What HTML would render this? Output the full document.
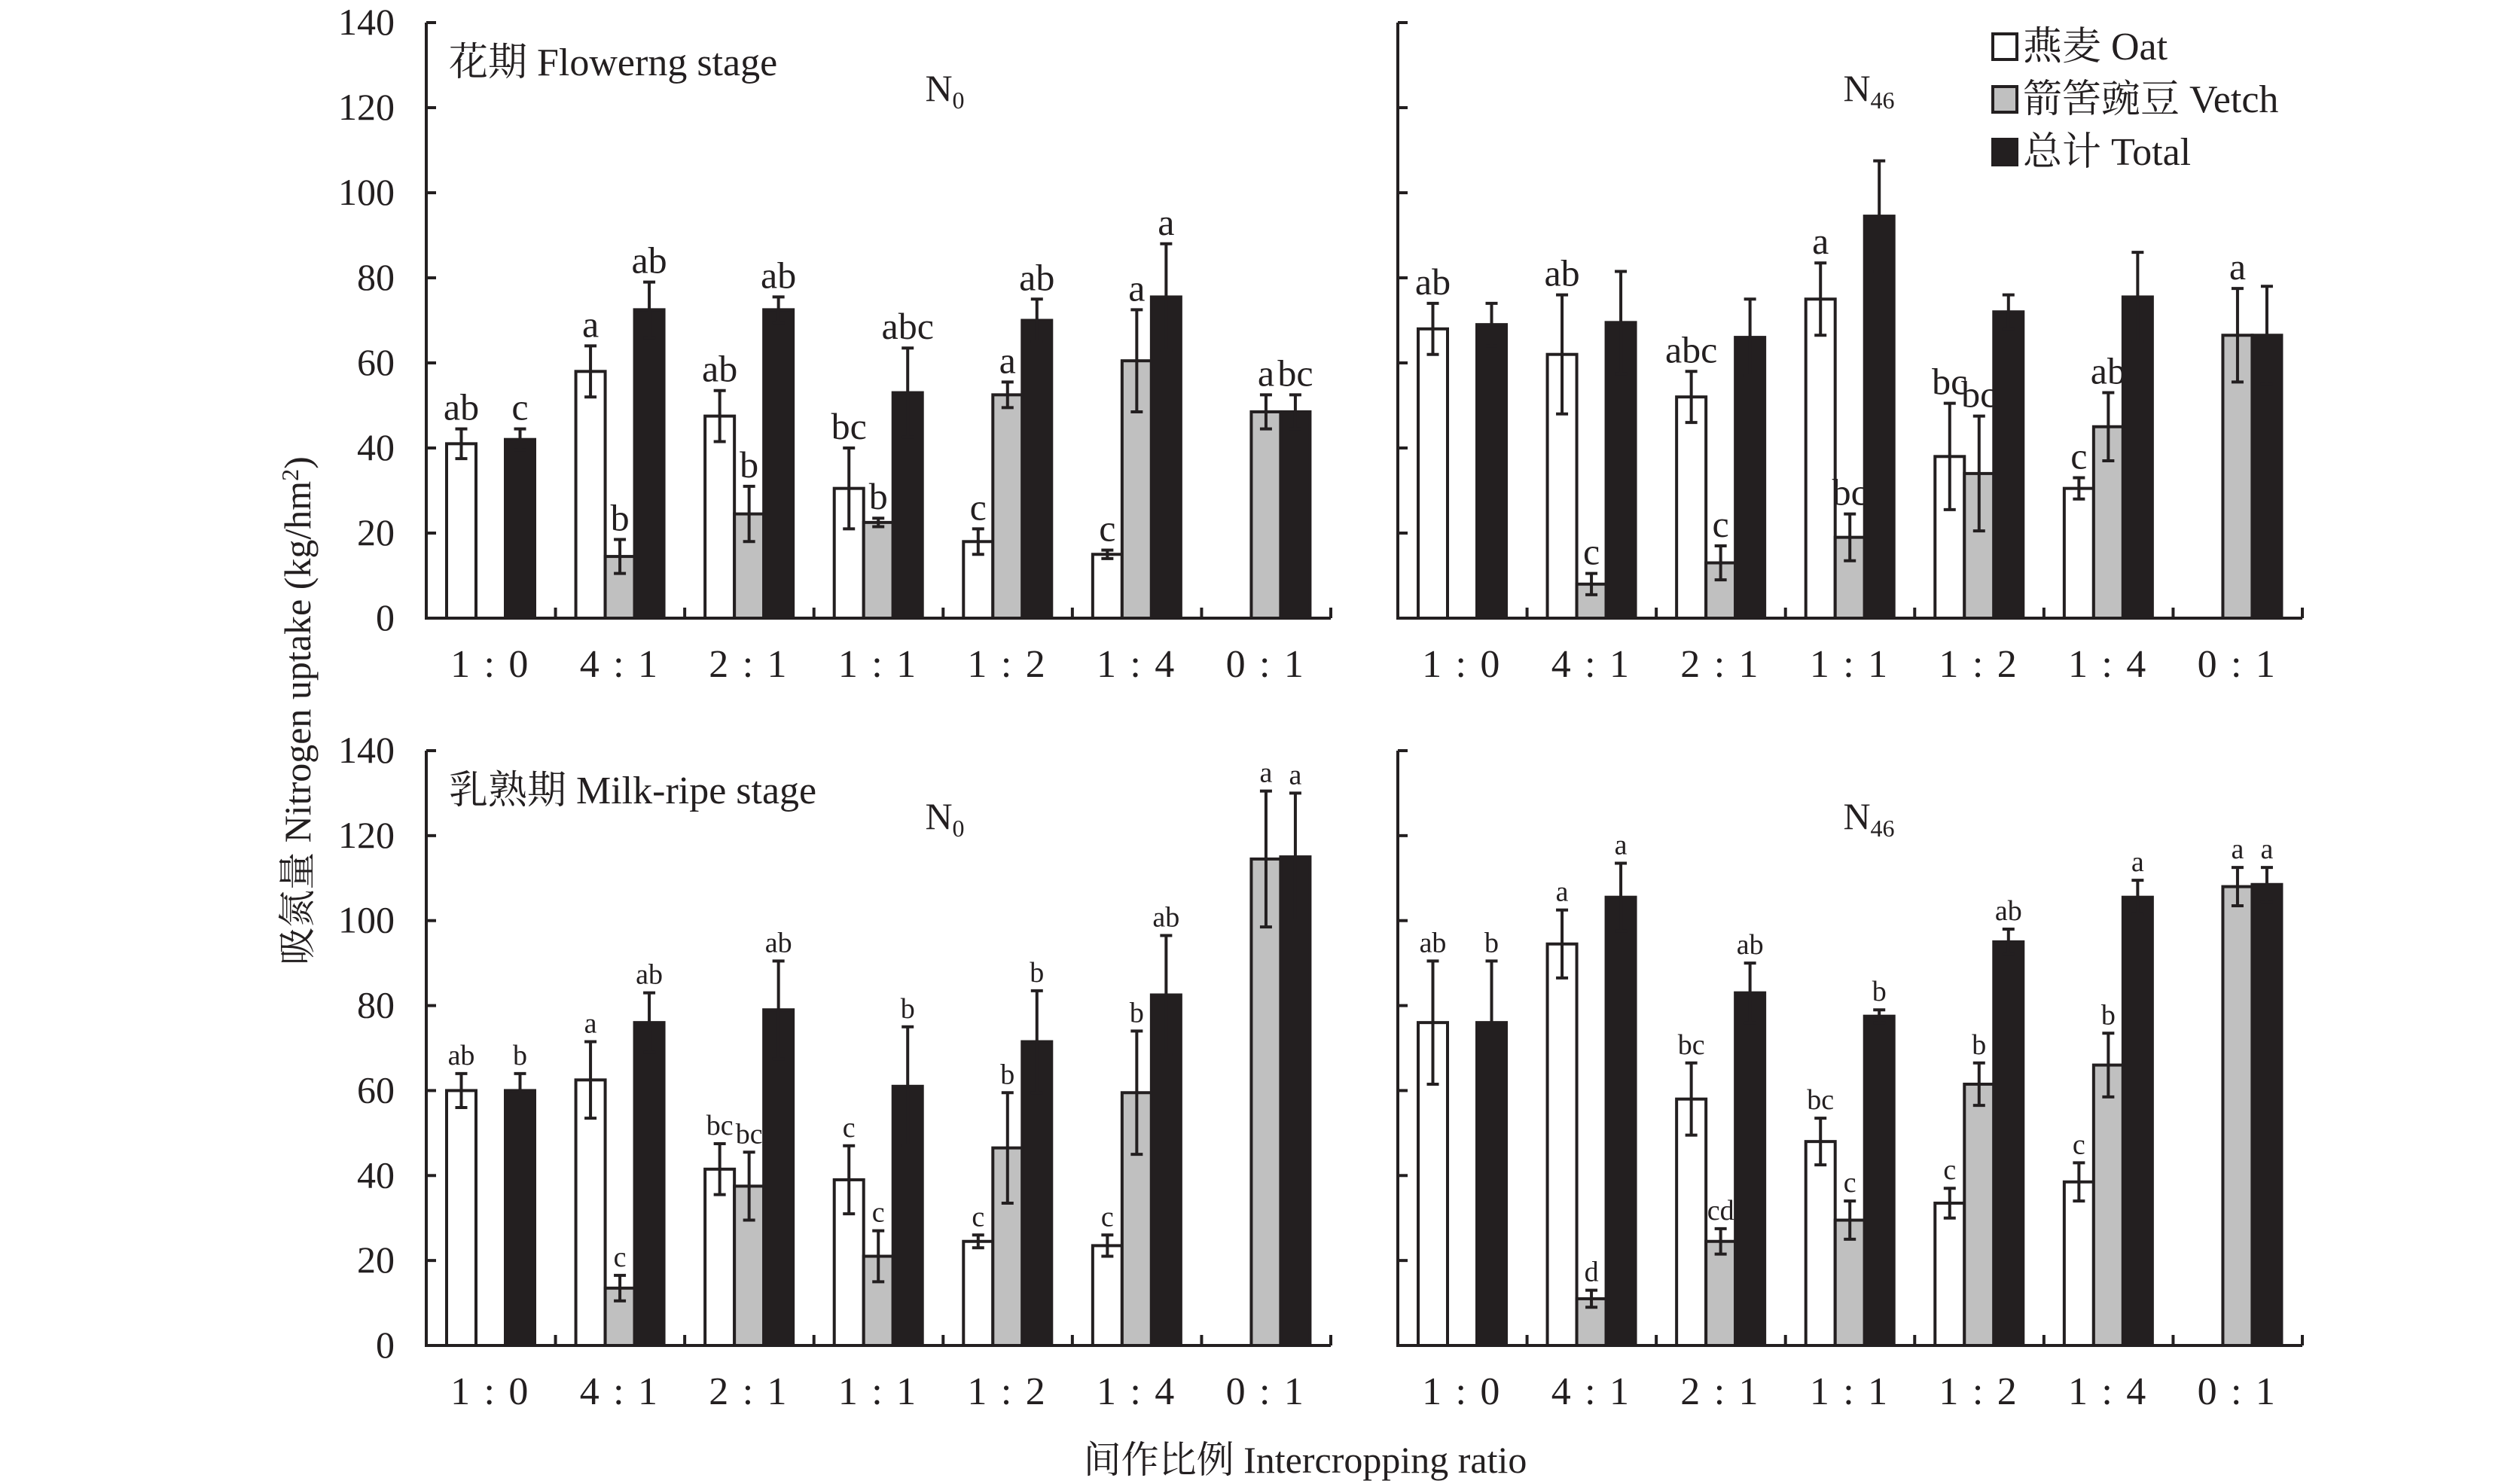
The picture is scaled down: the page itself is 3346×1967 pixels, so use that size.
<!DOCTYPE html>
<html><head><meta charset="utf-8"><style>
html,body{margin:0;padding:0;background:#fff}
svg{display:block}
svg text{font-family:"Liberation Serif","Noto Serif CJK SC","Noto Sans CJK SC",serif;fill:#231f20}
</style></head><body>
<svg id="c" width="3346" height="1967" viewBox="0 0 3346 1967" xmlns="http://www.w3.org/2000/svg" font-family="Liberation Serif, Noto Serif CJK SC, serif"></svg>
<script>
const categories=["1\u2009:\u20090","4\u2009:\u20091","2\u2009:\u20091","1\u2009:\u20091","1\u2009:\u20092","1\u2009:\u20094","0\u2009:\u20091"];
const yTicks=[0,20,40,60,80,100,120,140];
// Flowering N0
const fN0Oat=[41,58,47.5,30.5,18,15,0], fN0OatErr=[3.5,6,6,9.5,3,1,0];
const fN0Vet=[0,14.5,24.5,22.5,52.5,60.5,48.5], fN0VetErr=[0,4,6.5,1,3,12,4];
const fN0Tot=[42,72.5,72.5,53,70,75.5,48.5], fN0TotErr=[2.5,6.5,3,10.5,5,12.5,4];
const fN0OatL=["ab","a","ab","bc","c","c",""], fN0VetL=["","b","b","b","a","a","a"], fN0TotL=["c","ab","ab","abc","ab","a","bc"];
// Flowering N46
const fN46Oat=[68,62,52,75,38,30.5,0], fN46OatErr=[6,14,6,8.5,12.5,2.5,0];
const fN46Vet=[0,8,13,19,34,45,66.5], fN46VetErr=[0,2.5,4,5.5,13.5,8,11];
const fN46Tot=[69,69.5,66,94.5,72,75.5,66.5], fN46TotErr=[5,12,9,13,4,10.5,11.5];
const fN46OatL=["ab","ab","abc","a","bc","c",""], fN46VetL=["","c","c","bc","bc","ab","a"], fN46TotL=["","","","","","",""];
// Milk-ripe N0
const mN0Oat=[60,62.5,41.5,39,24.5,23.5,0], mN0OatErr=[4,9,6,8,1.5,2.5,0];
const mN0Vet=[0,13.5,37.5,21,46.5,59.5,114.5], mN0VetErr=[0,3,8,6,13,14.5,16];
const mN0Tot=[60,76,79,61,71.5,82.5,115], mN0TotErr=[4,7,11.5,14,12,14,15];
const mN0OatL=["ab","a","bc","c","c","c",""], mN0VetL=["","c","bc","c","b","b","a"], mN0TotL=["b","ab","ab","b","b","ab","a"];
// Milk-ripe N46
const mN46Oat=[76,94.5,58,48,33.5,38.5,0], mN46OatErr=[14.5,8,8.5,5.5,3.5,4.5,0];
const mN46Vet=[0,11,24.5,29.5,61.5,66,108], mN46VetErr=[0,2,3,4.5,5,7.5,4.5];
const mN46Tot=[76,105.5,83,77.5,95,105.5,108.5], mN46TotErr=[14.5,8,7,1.5,3,4,4];
const mN46OatL=["ab","a","bc","bc","c","c",""], mN46VetL=["","d","cd","c","b","b","a"], mN46TotL=["b","a","ab","b","ab","a","a"];

const NS="http://www.w3.org/2000/svg", svg=document.getElementById('c');
function mk(tag,attrs,parent,txt){const e=document.createElementNS(NS,tag);for(const k in attrs)e.setAttribute(k,attrs[k]);if(txt!==undefined)e.textContent=txt;(parent||svg).appendChild(e);return e;}

const fills=["#ffffff","#c0c0c0","#231f20"];
function panel(id,x0,yTop,yBot,series,errs,labels,showY,title,nlab,lfs,noff){
  const g=mk('g',{});
  
  
  const W=1201, gw=W/7;
  const sy=v=>yBot-(v/140)*(yBot-yTop);
  const sx=(i,k)=>x0+i*gw+27+k*39;
  const ax=mk('path',{d:`M${x0} ${yTop} V${yBot} H${x0+W}`,stroke:'#231f20','stroke-width':4,fill:'none'},g);
  
  yTicks.forEach(t=>{
    mk('line',{x1:x0,x2:x0+13,y1:sy(t),y2:sy(t),stroke:'#231f20','stroke-width':4},g);
    if(showY){const tl=mk('text',{x:x0-42,y:sy(t)+16,'text-anchor':'end','font-size':50},g,t);
      }
  });
  for(let i=1;i<=7;i++) mk('line',{x1:x0+i*gw,x2:x0+i*gw,y1:yBot,y2:yBot-14,stroke:'#231f20','stroke-width':4},g);
  categories.forEach((c,i)=>{const t=mk('text',{x:x0+i*gw+gw/2,y:yBot+78,'text-anchor':'middle','font-size':52,'letter-spacing':'4'},g,c);
    });
  series.forEach((vals,k)=>{
    vals.forEach((v,i)=>{
      const x=sx(i,k);
      if(v>0){
        const r=mk('rect',{x:x,y:sy(v),width:39,height:yBot-sy(v),fill:fills[k],stroke:'#231f20','stroke-width':4},g);
        
        
      }
      const e=errs[k][i], cx=x+19.5;
      if(e>0){
        mk('path',{d:`M${cx} ${sy(v+e)} V${sy(v-e)} M${cx-8} ${sy(v+e)} H${cx+8} M${cx-8} ${sy(v-e)} H${cx+8}`,stroke:'#231f20','stroke-width':4,fill:'none'},g);
      }
      const L=labels[k][i];
      if(L){const t=mk('text',{x:cx,y:sy(v+e)-12,'text-anchor':'middle','font-size':lfs},g,L);
        }
    });
  });
  if(title){const t=mk('text',{x:x0+30,y:yTop+70,'font-size':52},g,title);
    }
  const n=mk('text',{x:x0+W/2+noff,y:yTop+104,'text-anchor':'middle','font-size':50},g);
  
  n.innerHTML='N<tspan font-size="32" dy="10">'+nlab+'</tspan>';
}
panel('flowering-n0',566,30,821,[fN0Oat,fN0Vet,fN0Tot],[fN0OatErr,fN0VetErr,fN0TotErr],[fN0OatL,fN0VetL,fN0TotL],true,'花期 Flowerng stage','0',50,88);
panel('flowering-n46',1856,30,821,[fN46Oat,fN46Vet,fN46Tot],[fN46OatErr,fN46VetErr,fN46TotErr],[fN46OatL,fN46VetL,fN46TotL],false,'','46',50,25);
panel('milk-n0',566,997,1787,[mN0Oat,mN0Vet,mN0Tot],[mN0OatErr,mN0VetErr,mN0TotErr],[mN0OatL,mN0VetL,mN0TotL],true,'乳熟期 Milk-ripe stage','0',38,88);
panel('milk-n46',1856,997,1787,[mN46Oat,mN46Vet,mN46Tot],[mN46OatErr,mN46VetErr,mN46TotErr],[mN46OatL,mN46VetL,mN46TotL],false,'','46',38,25);

const leg=mk('g',{});

const legT=["燕麦 Oat","箭筈豌豆 Vetch","总计 Total"];
legT.forEach((t,i)=>{
  const y=62+i*70;
  mk('rect',{x:2660-14,y:y-17,width:32,height:34,fill:fills[i],stroke:'#231f20','stroke-width':4},leg);
  const tx=mk('text',{x:2686,y:y+17,'font-size':52},leg,t);
  
});
const yt=mk('text',{x:0,y:0,'text-anchor':'middle','font-size':50,transform:'translate(412,944) rotate(-90)'});

yt.innerHTML='吸氮量 Nitrogen uptake (kg/hm<tspan font-size="32" dy="-16">2</tspan><tspan dy="16">)</tspan>';
const xt=mk('text',{x:1733,y:1956,'text-anchor':'middle','font-size':50},svg,'间作比例 Intercropping ratio');

</script>
</body></html>
